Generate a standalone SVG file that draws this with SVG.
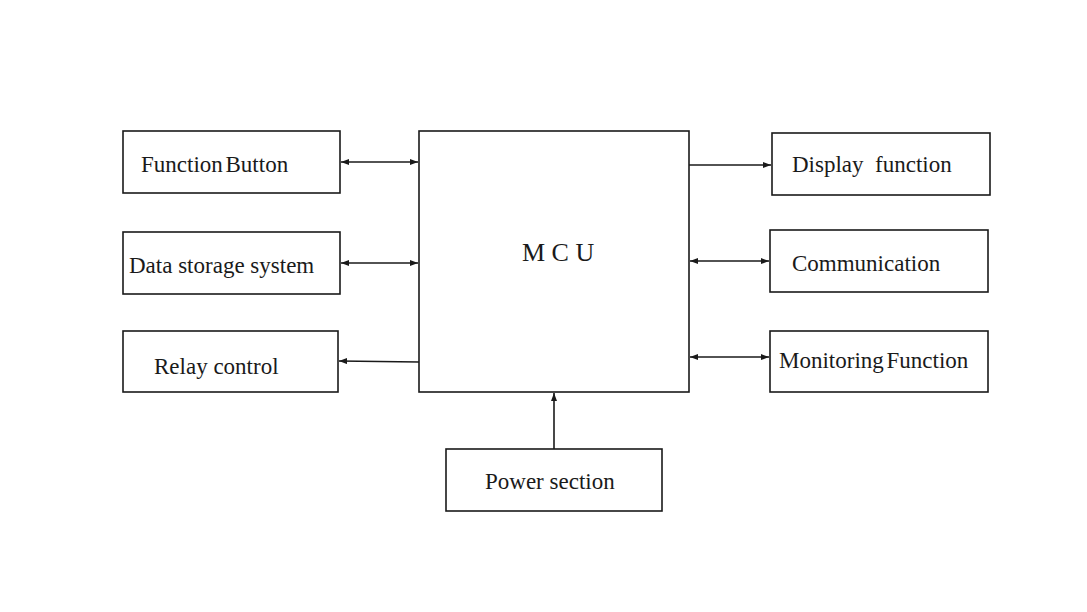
<svg xmlns="http://www.w3.org/2000/svg" width="1087" height="612" viewBox="0 0 1087 612">
<style>
.box{fill:#fff;stroke:#1a1a1a;stroke-width:1.6}
.t{font-family:"Liberation Serif","Times New Roman",serif;font-size:23px;fill:#1a1a1a;white-space:pre}
.c{stroke:#1a1a1a;stroke-width:1.6;fill:none}
</style>
<defs>
<marker id="ah" viewBox="0 0 8 6" refX="8" refY="3" markerWidth="8" markerHeight="6" markerUnits="userSpaceOnUse" orient="auto-start-reverse">
<path d="M0,0 L8,3 L0,6 z" fill="#1a1a1a"/>
</marker>
</defs>
<rect width="1087" height="612" fill="#fff"/>
<g id="mcu"><rect class="box" x="419" y="131" width="270" height="261"/><text class="t" x="522" y="261" style="font-size:26px">M C U</text></g>
<g id="function-button"><rect class="box" x="123" y="131" width="217" height="62"/><text class="t" x="141" y="172" word-spacing="-3">Function Button</text></g>
<g id="data-storage"><rect class="box" x="123" y="232" width="217" height="62"/><text class="t" x="129" y="273">Data storage system</text></g>
<g id="relay-control"><rect class="box" x="123" y="331" width="215" height="61"/><text class="t" x="154" y="374">Relay control</text></g>
<g id="display"><rect class="box" x="772" y="133" width="218" height="62"/><text class="t" x="792" y="172" xml:space="preserve">Display  function</text></g>
<g id="communication"><rect class="box" x="770" y="230" width="218" height="62"/><text class="t" x="792" y="271">Communication</text></g>
<g id="monitoring"><rect class="box" x="770" y="331" width="218" height="61"/><text class="t" x="779" y="368" word-spacing="-3">Monitoring Function</text></g>
<g id="power"><rect class="box" x="446" y="449" width="216" height="62"/><text class="t" x="485" y="489">Power section</text></g>
<g id="connectors">
<line class="c" x1="341" y1="162" x2="418" y2="162" marker-start="url(#ah)" marker-end="url(#ah)"/>
<line class="c" x1="341" y1="263" x2="418" y2="263" marker-start="url(#ah)" marker-end="url(#ah)"/>
<line class="c" x1="419" y1="362" x2="339" y2="361" marker-end="url(#ah)"/>
<line class="c" x1="689" y1="165" x2="771" y2="165" marker-end="url(#ah)"/>
<line class="c" x1="690" y1="261" x2="769" y2="261" marker-start="url(#ah)" marker-end="url(#ah)"/>
<line class="c" x1="690" y1="357" x2="769" y2="357" marker-start="url(#ah)" marker-end="url(#ah)"/>
<line class="c" x1="554" y1="449" x2="554" y2="393" marker-end="url(#ah)"/>
</g>
</svg>
